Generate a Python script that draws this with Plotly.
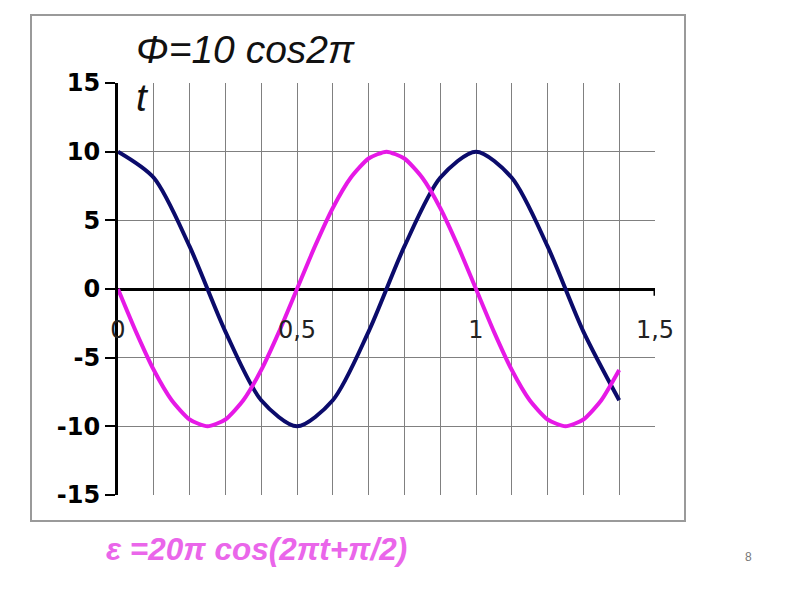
import plotly.graph_objects as go

# Data
t_phi = [0, 0.1, 0.2, 0.3, 0.4, 0.5, 0.6, 0.7, 0.8, 0.9, 1.0, 1.1, 1.2, 1.3, 1.4]
phi = [10, 8.1, 3.1, -3.1, -8.1, -10, -8.1, -3.1, 3.1, 8.1, 10, 8.1, 3.1, -3.1, -8.1]

t_eps = [0, 0.05, 0.1, 0.15, 0.2, 0.25, 0.3, 0.35, 0.4, 0.45, 0.5, 0.55, 0.6, 0.65,
         0.7, 0.75, 0.8, 0.85, 0.9, 0.95, 1.0, 1.05, 1.1, 1.15, 1.2, 1.25, 1.3, 1.35, 1.4]
eps = [0, -3.1, -5.9, -8.1, -9.5, -10, -9.5, -8.1, -5.9, -3.1, 0, 3.1, 5.9, 8.1,
       9.5, 10, 9.5, 8.1, 5.9, 3.1, 0, -3.1, -5.9, -8.1, -9.5, -10, -9.5, -8.1, -5.9]

x_tickvals = [0, 0.5, 1, 1.5]
x_ticktext = ["0", "0,5", "1", "1,5"]
y_tickvals = [-15, -10, -5, 0, 5, 10, 15]
y_ticktext = ["-15", "-10", "-5", "0", "5", "10", "15"]

# page body adds 8px offset; plot area targets x 118..655, y 83..495 on screen
OFF = 8
L, R, T, B = 118, 655, 83, 495
W, H = R - L, B - T


def px(x):
    return (x - L) / W


def py(y):
    return (B - y) / H


fig = go.Figure()
fig.add_trace(go.Scatter(x=t_phi, y=phi, mode="lines",
                         line=dict(color="#0b0b6b", width=4, shape="spline", smoothing=0.8),
                         showlegend=False, hoverinfo="skip"))
fig.add_trace(go.Scatter(x=t_eps, y=eps, mode="lines",
                         line=dict(color="#e619e6", width=4, shape="spline", smoothing=0.6),
                         showlegend=False, hoverinfo="skip"))

fig.update_layout(
    width=800, height=600,
    margin=dict(l=L - OFF, r=800 - (R - OFF), t=T - OFF, b=600 - (B - OFF)),
    paper_bgcolor="white", plot_bgcolor="white",
    font=dict(family="Liberation Sans, Arial, sans-serif", color="#111"),
    xaxis=dict(range=[0, 1.5], tickvals=x_tickvals, ticktext=x_ticktext,
               showgrid=True, gridcolor="#808080", gridwidth=1,
               minor=dict(dtick=0.1, tick0=0, showgrid=True, gridcolor="#808080", gridwidth=1),
               zeroline=False, showline=False, anchor="free", position=0.5,
               ticks="", ticklabelstandoff=24,
               tickfont=dict(size=24, color="#222", family="DejaVu Sans, Verdana, sans-serif")),
    yaxis=dict(range=[-15, 15], tickvals=y_tickvals, ticktext=y_ticktext,
               showgrid=True, gridcolor="#808080", gridwidth=1,
               zeroline=True, zerolinecolor="black", zerolinewidth=3,
               showline=True, linecolor="black", linewidth=3,
               ticks="outside", ticklen=10, tickwidth=2, tickcolor="black",
               tickfont=dict(size=24, color="#000", family="DejaVu Sans, Verdana, sans-serif",
                             weight="bold")),
)

# chart frame
fig.add_shape(type="rect", xref="paper", yref="paper",
              x0=px(31), x1=px(685), y0=py(521), y1=py(15),
              line=dict(color="#9a9a9a", width=2), layer="below")
# end tick at 1.5 on the zero axis
fig.add_shape(type="line", x0=1.5, x1=1.5, y0=0, y1=-0.5,
              line=dict(color="black", width=3))

fig.add_annotation(text="<i>Φ=10 cos2π</i>", xref="paper", yref="paper",
                   x=px(134), y=py(50), xanchor="left", yanchor="middle",
                   showarrow=False, font=dict(size=39, color="#111"))
fig.add_annotation(text="<i>t</i>", xref="paper", yref="paper",
                   x=px(134), y=py(97), xanchor="left", yanchor="middle",
                   showarrow=False, font=dict(size=39, color="#111"))
fig.add_annotation(text="<b><i>ε =20π cos(2πt+π/2)</i></b>", xref="paper", yref="paper",
                   x=px(104), y=py(549), xanchor="left", yanchor="middle",
                   showarrow=False, font=dict(size=31.5, color="#ea66ea"))
fig.add_annotation(text="8", xref="paper", yref="paper",
                   x=px(748), y=py(557), xanchor="center", yanchor="middle",
                   showarrow=False, font=dict(size=12, color="#777"))

fig.write_html("out.html")
